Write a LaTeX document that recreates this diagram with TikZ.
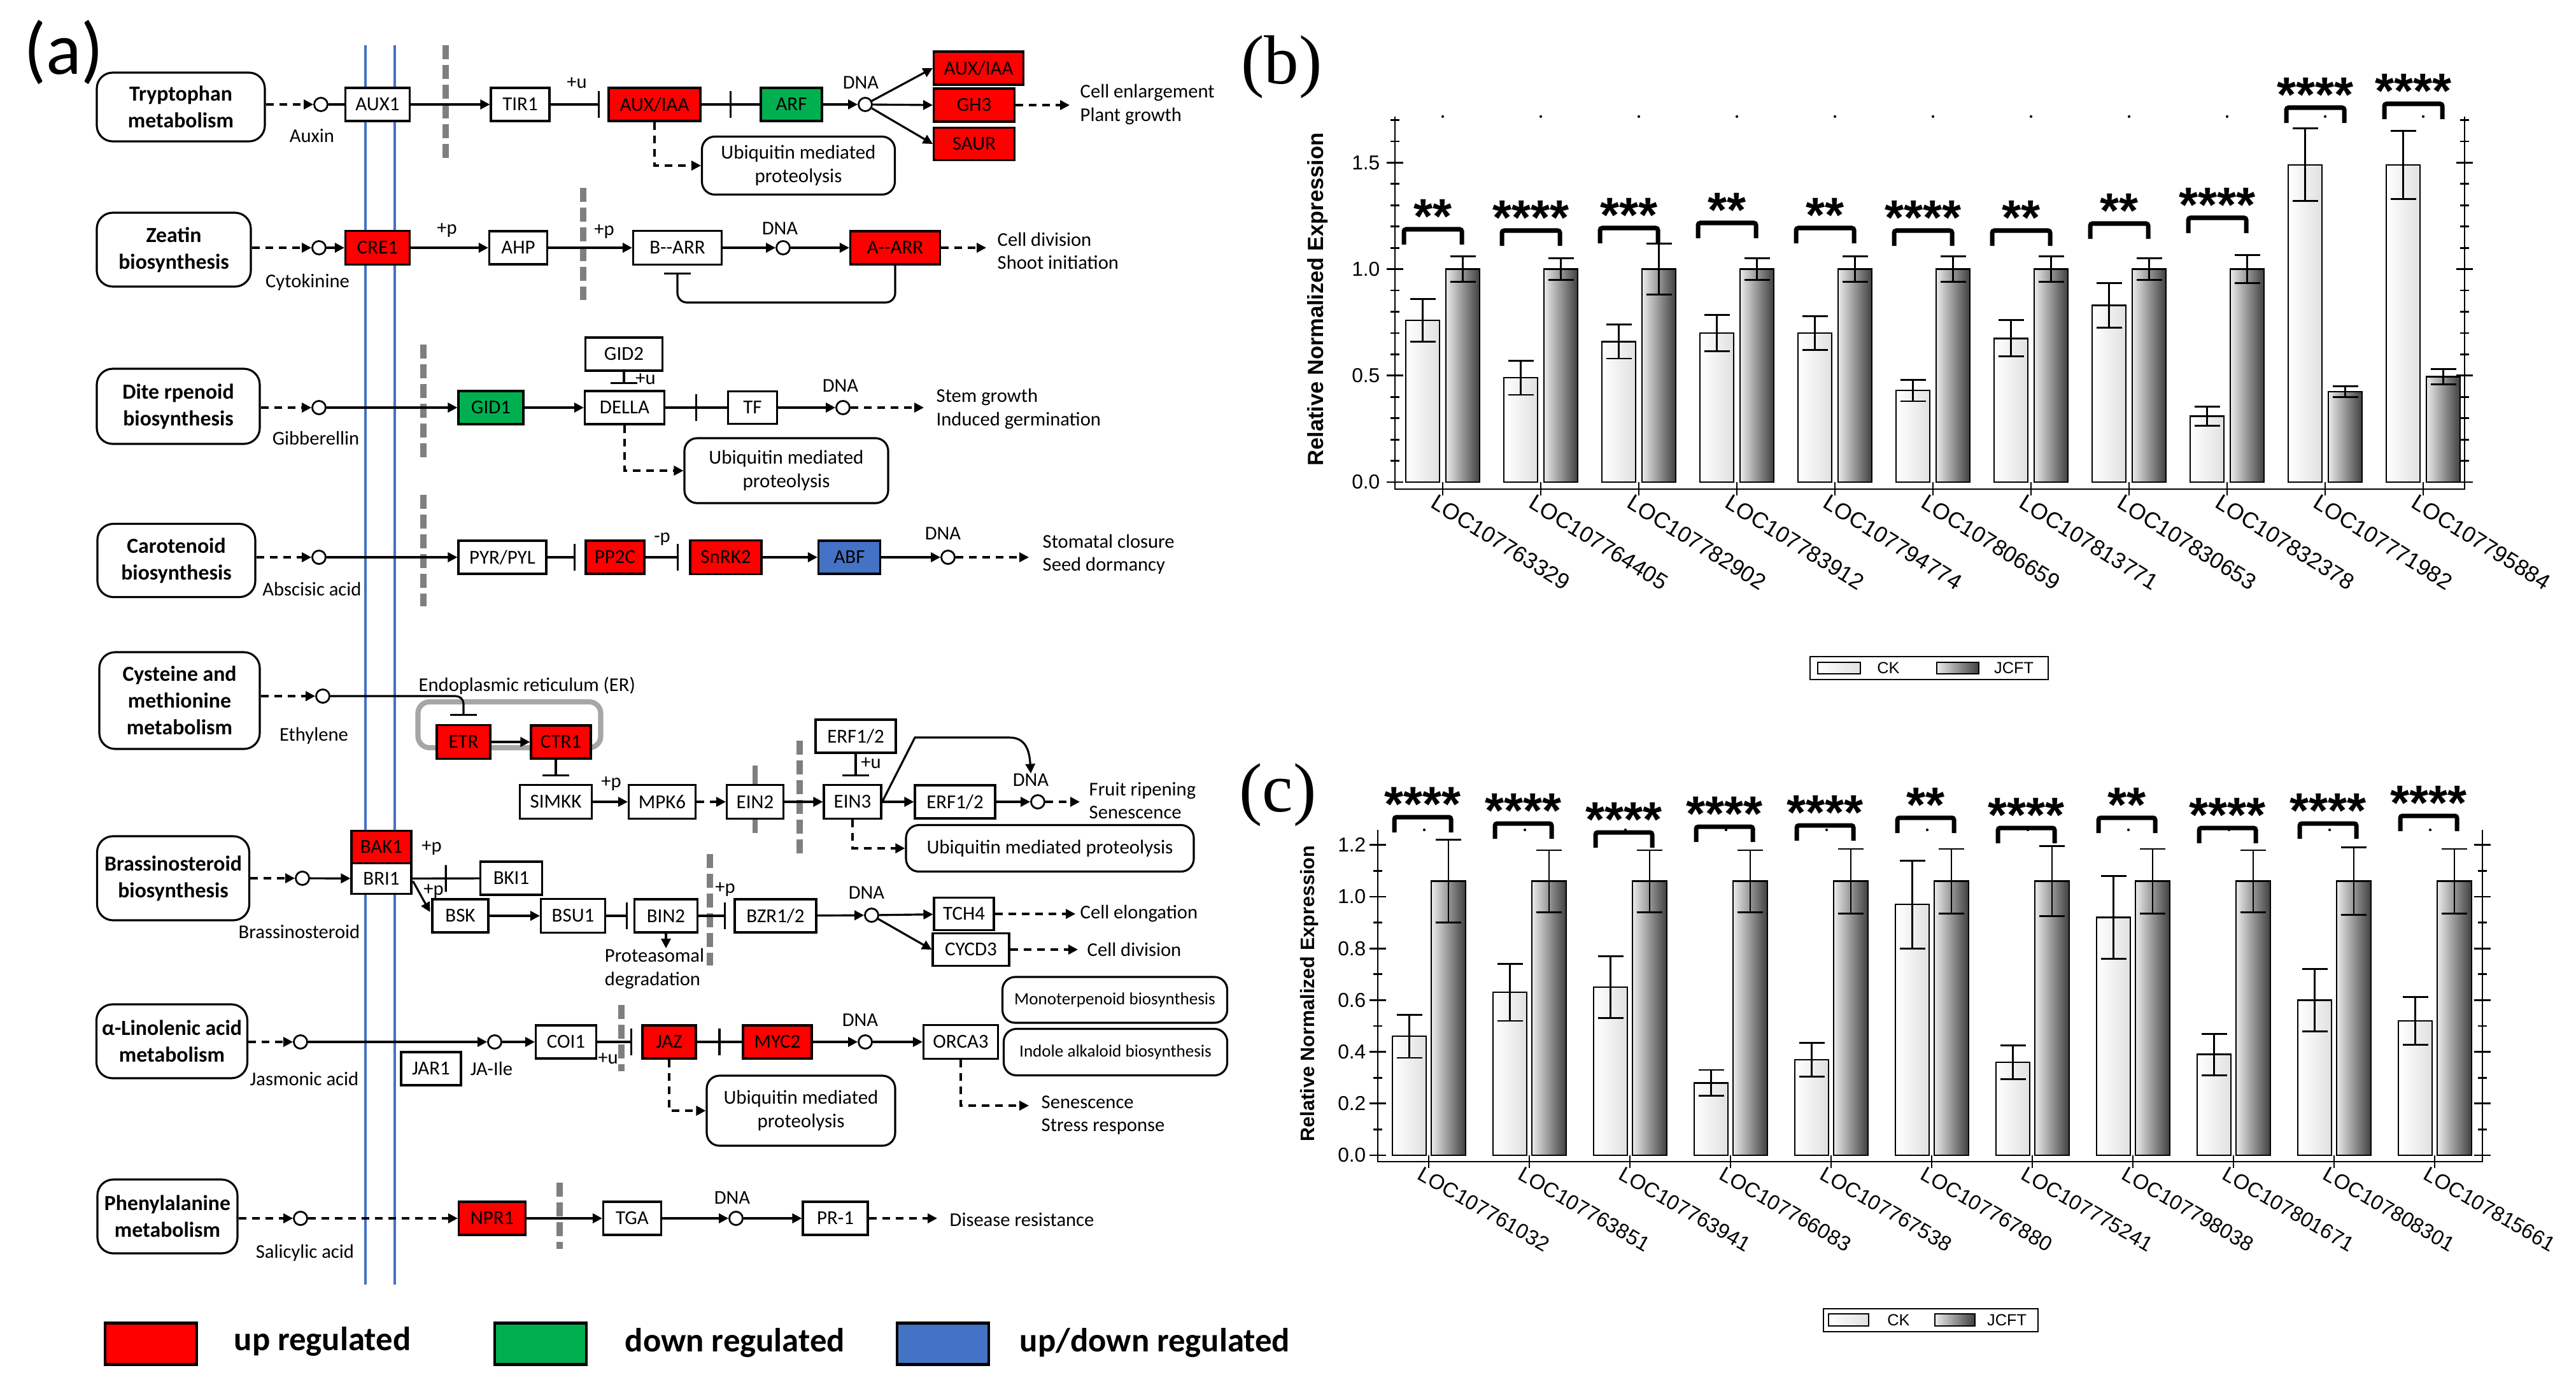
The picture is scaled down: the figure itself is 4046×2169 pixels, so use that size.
\documentclass[tikz,border=0pt]{standalone}
\usepackage{fontspec}
\setmainfont{Carlito}
\newfontfamily\arialf{Liberation Sans}
\newfontfamily\timesf{Liberation Serif}
\usetikzlibrary{arrows.meta,calc,decorations.markings}
\definecolor{upred}{HTML}{FF0000}
\definecolor{dngreen}{HTML}{00B050}
\definecolor{udblue}{HTML}{4472C4}
\definecolor{bline}{HTML}{4472C4}
\definecolor{gdgrey}{HTML}{7F7F7F}
\definecolor{ergrey}{HTML}{A6A6A6}
\tikzset{
  wh/.style 2 args={minimum width={#1*0.01cm}, minimum height={#2*0.01cm}},
  gene/.style={draw, line width=0.9pt, fill=white, inner sep=0pt, font=\fontsize{8.8}{10}\selectfont},
  upbox/.style={gene, fill=upred},
  dnbox/.style={gene, fill=dngreen},
  udbox/.style={gene, fill=udblue},
  pw/.style={draw, line width=0.9pt, rounded corners=0.25cm, align=center, inner sep=0pt, font=\bfseries\fontsize{9.6}{12}\selectfont},
  ubq/.style={draw, line width=0.9pt, rounded corners=0.2cm, align=center, inner sep=0pt, font=\fontsize{8.8}{10.6}\selectfont},
  lbl/.style={inner sep=0pt, font=\fontsize{8.7}{10.3}\selectfont},
  side/.style={lbl, align=left, anchor=west},
  cir/.style={circle, draw, line width=0.8pt, fill=white, minimum size=0.21cm, inner sep=0pt},
  ln/.style={line width=0.9pt},
  arr/.style={ln, -{Triangle[length=0.15cm,width=0.15cm]}},
  darr/.style={arr, dash pattern=on 0.12cm off 0.09cm},
  inh/.style={ln, -{Bar[width=0.42cm]}},
  midbar/.style={postaction={decorate, decoration={markings, mark=at position 0.5 with {\draw[line width=0.9pt, solid] (0pt,-0.21cm) -- (0pt,0.21cm);}}}},
  gdash/.style={draw=gdgrey, line width=2.8pt, dash pattern=on 0.22cm off 0.09cm},
  bluev/.style={draw=bline, line width=0.9pt},
  legbox/.style={draw, line width=1.2pt, wh={144}{65}, inner sep=0pt},
  legtxt/.style={inner sep=0pt, anchor=west, font=\bfseries\fontsize{15}{18}\selectfont},
  ckbar/.style={draw, line width=0.7pt, left color=white, right color=black!12},
  jcbar/.style={draw, line width=0.7pt, left color=black!8, right color=black!75},
  errb/.style={line width=0.8pt},
  brk/.style={line width=2pt},
  axl/.style={line width=0.8pt},
  tick/.style={inner sep=0pt, anchor=east, font=\arialf\fontsize{9}{10}\selectfont},
  stars/.style={inner sep=0pt, anchor=base, font=\arialf\bfseries\fontsize{22}{22}\selectfont},
}
\begin{document}
\begin{tikzpicture}[x=0.01cm,y=-0.01cm]
\useasboundingbox (0,0) rectangle (4046,2169);
\fill[white] (0,0) rectangle (4046,2169);

% ================= PANEL (a) =================
\node[inner sep=0pt, font=\fontsize{33}{36}\selectfont] (pa) at (100,82) {(a)};

% membrane lines
\draw[bluev] (574,71) -- (574,2017);
\draw[bluev] (620,71) -- (620,2017);
\draw[gdash] (700,71) -- (700,248);
\draw[gdash] (916,295) -- (916,471);
\draw[gdash] (665,541) -- (665,718);
\draw[gdash] (665,777) -- (665,952);
\draw[gdash] (1256,1163) -- (1256,1340);
\draw[gdgrey, line width=2.5pt] (1186,1202) -- (1186,1308);
\draw[gdash] (1115,1341) -- (1115,1516);
\draw[gdash] (976,1578) -- (976,1682);
\draw[gdash] (879,1857) -- (879,1961);

% ---------- Row 1: Tryptophan ----------
\node[pw, wh={264}{108}] (trp) at (284,168) {Tryptophan\\metabolism};
\node[cir] (c1) at (504,164) {};
\node[lbl] (auxin) at (490,213) {Auxin};
\node[gene, wh={101}{52}] (aux1) at (593,164) {AUX1};
\node[gene, wh={92}{52}] (tir1) at (817,164) {TIR1};
\node[lbl] (pu1) at (906,130) {+u};
\node[upbox, wh={144}{52}] (auxiaa) at (1028,164) {AUX/IAA};
\node[dnbox, wh={96}{52}] (arf) at (1243,164) {ARF};
\node[cir] (d1) at (1359,164) {};
\node[lbl] (dna1) at (1352,130) {DNA};
\node[upbox, wh={141}{52}] (auxiaa2) at (1537,107) {AUX/IAA};
\node[upbox, wh={127}{52}] (gh3) at (1530,165) {GH3};
\node[upbox, wh={127}{51}] (saur) at (1530,226) {SAUR};
\coordinate (e1) at (1680,165);
\node[side] (t1) at (1696,164) {Cell enlargement\\Plant growth};
\node[ubq, wh={303}{91}] (ub1) at (1254,260) {Ubiquitin mediated\\proteolysis};
\draw[darr] (trp.east |- c1) -- (c1);
\draw[ln] (c1) -- (aux1);
\draw[arr] (aux1) -- (tir1);
\draw[inh, shorten >=0.12cm] (tir1) -- (auxiaa);
\draw[ln, midbar] (auxiaa) -- (arf);
\draw[arr] (arf) -- (d1);
\draw[arr] (d1) -- (auxiaa2.west);
\draw[arr] (d1) -- (gh3.west);
\draw[arr] (d1) -- (saur.west);
\draw[darr] (gh3) -- (e1);
\draw[darr] (auxiaa.south) |- (ub1.west);

% ---------- Row 2: Zeatin ----------
\node[pw, wh={242}{116}] (zea) at (273,392) {Zeatin\\biosynthesis};
\node[cir] (c2) at (501,389) {};
\node[lbl] (cyto) at (483,443) {Cytokinine};
\node[upbox, wh={101}{53}] (cre1) at (593,389) {CRE1};
\node[lbl] (pp2a) at (702,362) {+p};
\node[gene, wh={91}{52}] (ahp) at (814,389) {AHP};
\node[lbl] (pp2b) at (949,364) {+p};
\node[gene, wh={139}{53}] (barr) at (1064,389) {B-{}-ARR};
\node[cir] (d2) at (1230,389) {};
\node[lbl] (dna2) at (1225,359) {DNA};
\node[upbox, wh={141}{52}] (aarr) at (1406,389) {A-{}-ARR};
\coordinate (e2) at (1549,389);
\node[side] (t2) at (1566,394) {Cell division\\Shoot initiation};
\coordinate (fb) at (1064,475);
\draw[darr] (zea.east |- c2) -- (c2);
\draw[arr] (c2) -- (cre1);
\draw[arr] (cre1) -- (ahp);
\draw[arr] (ahp) -- (barr);
\draw[arr] (barr) -- (d2);
\draw[arr] (d2) -- (aarr);
\draw[darr] (aarr) -- (e2);
\draw[inh, rounded corners=0.15cm] (aarr.south) |- (fb) -- ($(barr.south)+(0,11)$);

% ---------- Row 3: Diterpenoid ----------
\node[pw, wh={256}{118}] (dit) at (280,638) {Dite rpenoid\\biosynthesis};
\node[cir] (c3) at (501,640) {};
\node[lbl] (gib) at (496,688) {Gibberellin};
\node[dnbox, wh={102}{52}] (gid1) at (771,640) {GID1};
\node[gene, wh={125}{52}] (della) at (981,640) {DELLA};
\node[gene, wh={121}{52}] (gid2) at (980,556) {GID2};
\node[lbl] (pu3) at (1014,595) {+u};
\node[gene, wh={77}{51}] (tf) at (1182,640) {TF};
\node[cir] (d3) at (1324,640) {};
\node[lbl] (dna3) at (1320,606) {DNA};
\coordinate (e3) at (1451,640);
\node[side] (t3) at (1470,642) {Stem growth\\Induced germination};
\node[ubq, wh={320}{102}] (ub2) at (1235,739) {Ubiquitin mediated\\proteolysis};
\draw[darr] (dit.east |- c3) -- (c3);
\draw[arr] (c3) -- (gid1);
\draw[arr] (gid1) -- (della);
\draw[inh] (gid2.south) -- ($(gid2.south |- della.north)+(0,-9)$);
\draw[ln, midbar] (della) -- (tf);
\draw[arr] (tf) -- (d3);
\draw[darr] (d3) -- (e3);
\draw[darr] (della.south) |- (ub2.west);

% ---------- Row 4: Carotenoid ----------
\node[pw, wh={248}{115}] (car) at (277,880) {Carotenoid\\biosynthesis};
\node[cir] (c4) at (501,875) {};
\node[lbl] (aba) at (490,925) {Abscisic acid};
\node[gene, wh={138}{52}] (pyr) at (789,875) {PYR/PYL};
\node[upbox, wh={92}{52}] (pp2c) at (966,875) {PP2C};
\node[lbl] (mp4) at (1040,847) {-p};
\node[upbox, wh={112}{53}] (snrk) at (1140,875) {SnRK2};
\node[udbox, wh={97}{52}] (abf) at (1334,875) {ABF};
\node[cir] (d4) at (1489,875) {};
\node[lbl] (dna4) at (1481,838) {DNA};
\coordinate (e4) at (1616,875);
\node[side] (t4) at (1637,870) {Stomatal closure\\Seed dormancy};
\draw[darr] (car.east |- c4) -- (c4);
\draw[arr] (c4) -- (pyr);
\draw[inh, shorten >=0.14cm] (pyr) -- (pp2c);
\draw[inh, shorten >=0.16cm] (pp2c) -- (snrk);
\draw[arr] (snrk) -- (abf);
\draw[arr] (abf) -- (d4);
\draw[darr] (d4) -- (e4);

% ---------- Row 5: Ethylene ----------
\node[draw=ergrey, line width=2.3pt, rounded corners=0.18cm, wh={287}{72}, inner sep=0pt] (er) at (800,1138) {};
\node[lbl, anchor=west] (ertxt) at (657,1077) {Endoplasmic reticulum (ER)};
\node[pw, wh={252}{152}] (cys) at (282,1100) {Cysteine and\\methionine\\metabolism};
\node[cir] (c5) at (507,1093) {};
\node[lbl] (eth) at (493,1155) {Ethylene};
\node[upbox, wh={84}{53}] (etr) at (728,1165) {ETR};
\node[upbox, wh={94}{52}] (ctr1) at (881,1165) {CTR1};
\node[gene, wh={113}{53}] (simkk) at (873,1259) {SIMKK};
\node[lbl] (pp5a) at (960,1231) {+p};
\node[gene, wh={105}{53}] (mpk6) at (1040,1259) {MPK6};
\node[gene, wh={89}{53}] (ein2) at (1186,1259) {EIN2};
\node[gene, wh={90}{53}] (ein3) at (1339,1259) {EIN3};
\node[gene, wh={126}{52}] (erf1) at (1344,1156) {ERF1/2};
\node[lbl] (pu5) at (1368,1198) {+u};
\node[gene, wh={126}{52}] (erf2) at (1500,1259) {ERF1/2};
\node[cir] (d5) at (1630,1259) {};
\node[lbl] (dna5) at (1619,1225) {DNA};
\coordinate (e5) at (1696,1259);
\node[side] (t5) at (1710,1257) {Fruit ripening\\Senescence};
\node[ubq, wh={452}{73}] (ub3) at (1649,1332) {Ubiquitin mediated proteolysis};
\coordinate (k5a) at (1437,1158);
\coordinate (k5b) at (1585,1158);
\draw[darr] (cys.east |- c5) -- (c5);
\draw[inh, rounded corners=0.12cm] (c5) -| ($(etr.north)+(0,-13)$);
\draw[arr] (etr) -- (ctr1);
\draw[inh] (ctr1.south -| simkk.north) -- ($(simkk.north)+(0,-12)$);
\draw[arr] (simkk) -- (mpk6);
\draw[darr] (mpk6) -- (ein2);
\draw[arr] (ein2) -- (ein3);
\draw[inh] (erf1.south) -- ($(erf1.south |- ein3.north)+(0,-12)$);
\draw[arr] (ein3) -- (erf2);
\draw[arr] (erf2) -- (d5);
\draw[darr] (d5) -- (e5);
\draw[arr] (ein3.east) -- (k5a) -- (k5b) .. controls (1612,1158) and (1617,1180) .. (dna5.north);
\draw[darr] (ein3.south) |- (ub3.west);

% ---------- Row 6: Brassinosteroid ----------
\node[pw, wh={239}{132}] (bra) at (272,1379) {Brassinosteroid\\biosynthesis};
\node[cir] (c6) at (475,1379) {};
\node[lbl] (brs) at (470,1463) {Brassinosteroid};
\node[upbox, wh={94}{51}] (bak1) at (599,1330) {BAK1};
\node[gene, wh={94}{48}] (bri1) at (599,1379.5) {BRI1};
\node[lbl] (pp6a) at (678,1332) {+p};
\node[gene, wh={97}{52}] (bki1) at (803,1379) {BKI1};
\node[lbl] (pp6b) at (681,1400) {+p};
\node[gene, wh={88}{52}] (bsk) at (723,1438) {BSK};
\node[gene, wh={101}{53}] (bsu1) at (900,1438) {BSU1};
\node[gene, wh={99}{52}] (bin2) at (1046,1438) {BIN2};
\node[lbl, align=left] (prot) at (1028,1521) {Proteasomal\\degradation};
\node[lbl] (pp6c) at (1139,1397) {+p};
\node[gene, wh={128}{52}] (bzr) at (1218,1438) {BZR1/2};
\node[cir] (d6) at (1369,1437) {};
\node[lbl] (dna6) at (1361,1402) {DNA};
\node[gene, wh={94}{51}] (tch4) at (1514,1435) {TCH4};
\node[gene, wh={120}{51}] (cycd3) at (1525,1491) {CYCD3};
\coordinate (e6a) at (1689,1435);
\coordinate (e6b) at (1693,1491);
\node[side] (t6a) at (1696,1434) {Cell elongation};
\node[side] (t6b) at (1707,1491) {Cell division};
\draw[darr] (bra.east |- c6) -- (c6);
\draw[arr] (c6) -- (bri1);
\draw[ln, midbar] (bri1) -- (bki1);
\draw[arr] ($(bri1.east)+(1,4)$) -- ($(bsk.west)+(-2,-6)$);
\draw[arr] (bsk) -- (bsu1);
\draw[inh, shorten >=0.09cm] (bsu1) -- (bin2);
\draw[arr] (bin2.south) -- (bin2.south |- prot.north);
\draw[inh, shorten >=0.12cm] (bin2) -- (bzr);
\draw[arr] (bzr) -- (d6);
\draw[arr] (d6) -- (tch4);
\draw[arr] (d6) -- (cycd3.west);
\draw[darr] (tch4) -- (e6a);
\draw[darr] (cycd3) -- (e6b);

% ---------- Row 7: alpha-Linolenic ----------
\node[pw, wh={237}{116}] (lin) at (270,1635) {α-Linolenic acid\\metabolism};
\node[cir] (c7) at (472,1636) {};
\node[lbl] (jas) at (478,1694) {Jasmonic acid};
\node[gene, wh={94}{52}] (jar1) at (677,1678) {JAR1};
\node[cir] (c7b) at (777,1636) {};
\node[lbl] (jaile) at (772,1678) {JA-Ile};
\node[gene, wh={95}{52}] (coi1) at (889,1636) {COI1};
\node[lbl] (pu7) at (955,1662) {+u};
\node[upbox, wh={84}{52}] (jaz) at (1051,1636) {JAZ};
\node[upbox, wh={108}{52}] (myc2) at (1221,1636) {MYC2};
\node[cir] (d7) at (1359,1636) {};
\node[lbl] (dna7) at (1351,1602) {DNA};
\node[gene, wh={117}{53}] (orca3) at (1509,1636) {ORCA3};
\node[ubq, font=\fontsize{7.7}{9}\selectfont, wh={353}{72}] (mono) at (1751,1570) {Monoterpenoid biosynthesis};
\node[ubq, font=\fontsize{7.7}{9}\selectfont, wh={351}{73}] (indole) at (1752,1652) {Indole alkaloid biosynthesis};
\node[ubq, wh={296}{110}] (ub4) at (1258,1744) {Ubiquitin mediated\\proteolysis};
\coordinate (e7) at (1616,1736);
\node[side] (t7) at (1635,1751) {Senescence\\Stress response};
\draw[darr] (lin.east |- c7) -- (c7);
\draw[arr] (c7) -- (c7b);
\draw[arr] (c7b) -- (coi1);
\draw[inh, shorten >=0.14cm] (coi1) -- (jaz);
\draw[ln, midbar] (jaz) -- (myc2);
\draw[arr] (myc2) -- (d7);
\draw[arr] (d7) -- (orca3);
\draw[darr] (jaz.south) |- (ub4.west);
\draw[darr] (orca3.south) |- (e7);

% ---------- Row 8: Phenylalanine ----------
\node[pw, wh={220}{116}] (phe) at (263,1910) {Phenylalanine\\metabolism};
\node[cir] (c8) at (472,1913) {};
\node[lbl] (sal) at (479,1967) {Salicylic acid};
\node[upbox, wh={105}{52}] (npr1) at (773,1913) {NPR1};
\node[gene, wh={91}{52}] (tga) at (993,1913) {TGA};
\node[cir] (d8) at (1156,1913) {};
\node[lbl] (dna8) at (1150,1881) {DNA};
\node[gene, wh={102}{52}] (pr1) at (1312,1913) {PR-1};
\coordinate (e8) at (1472,1913);
\node[side] (t8) at (1491,1915) {Disease resistance};
\draw[darr] (phe.east |- c8) -- (c8);
\draw[darr] (c8) -- (npr1);
\draw[arr] (npr1) -- (tga);
\draw[arr] (tga) -- (d8);
\draw[arr] (d8) -- (pr1);
\draw[darr] (pr1) -- (e8);

% ---------- Legend ----------
\node[legbox, fill=upred] (lg1) at (237,2110) {};
\node[legtxt] (lg1t) at (367,2106) {up regulated};
\node[legbox, fill=dngreen] (lg2) at (849,2110) {};
\node[legtxt] (lg2t) at (981,2108) {down regulated};
\node[legbox, fill=udblue] (lg3) at (1481,2110) {};
\node[legtxt] (lg3t) at (1601,2108) {up/down regulated};

% ================= PANEL (b) =================
\node[inner sep=0pt, font=\timesf\fontsize{31}{34}\selectfont] (pb) at (2013,105) {(b)};
\draw[axl] (2191,183) -- (2191,768) -- (3871,768) -- (3871,183);
\foreach \k in {0,...,17}{
  \draw[axl] (2184,{757-\k*33.44}) -- (2198,{757-\k*33.44});
  \draw[axl] (3864,{757-\k*33.44}) -- (3878,{757-\k*33.44});
}
\foreach \k/\t in {0/0.0,5/0.5,10/1.0,15/1.5}{
  \draw[axl] (2178,{757-\k*33.44}) -- (2204,{757-\k*33.44});
  \draw[axl] (3858,{757-\k*33.44}) -- (3884,{757-\k*33.44});
  \node[tick] (btl\k) at (2168,{757-\k*33.44}) {\t};
}
\node[rotate=90, inner sep=0pt, font=\arialf\bfseries\fontsize{9.8}{11}\selectfont] (bylab) at (2070,470) {Relative Normalized Expression};
\foreach \i/\ck/\cke/\jc/\jce/\bt/\st/\nm in {
0/0.76/0.10/1.0/0.06/360/**/LOC107763329,
1/0.49/0.08/1.0/0.05/362/****/LOC107764405,
2/0.66/0.08/1.0/0.12/358/***/LOC107782902,
3/0.70/0.085/1.0/0.05/350/**/LOC107783912,
4/0.70/0.08/1.0/0.06/358/**/LOC107794774,
5/0.43/0.05/1.0/0.06/362/****/LOC107806659,
6/0.675/0.085/1.0/0.06/362/**/LOC107813771,
7/0.83/0.105/1.0/0.05/351/**/LOC107830653,
8/0.31/0.045/1.0/0.065/342/****/LOC107832378,
9/1.49/0.17/0.425/0.025/169/****/LOC107771982,
10/1.49/0.16/0.495/0.035/163/****/LOC107795884}{
  \pgfmathsetmacro\xl{2208+154*\i}
  \pgfmathsetmacro\xj{\xl+63}
  \pgfmathsetmacro\yc{757-\ck*334.4}
  \pgfmathsetmacro\ycl{757-(\ck-\cke)*334.4}
  \pgfmathsetmacro\ych{757-(\ck+\cke)*334.4}
  \pgfmathsetmacro\yj{757-\jc*334.4}
  \pgfmathsetmacro\yjl{757-(\jc-\jce)*334.4}
  \pgfmathsetmacro\yjh{757-(\jc+\jce)*334.4}
  \draw[ckbar] (\xl,757) rectangle ({\xl+53},\yc);
  \draw[jcbar] (\xj,757) rectangle ({\xj+53},\yj);
  \draw[errb] ({\xl+26.5},\ycl) -- ({\xl+26.5},\ych);
  \draw[errb] ({\xl+6.5},\ycl) -- ({\xl+46.5},\ycl);
  \draw[errb] ({\xl+6.5},\ych) -- ({\xl+46.5},\ych);
  \draw[errb] ({\xj+26.5},\yjl) -- ({\xj+26.5},\yjh);
  \draw[errb] ({\xj+6.5},\yjl) -- ({\xj+46.5},\yjl);
  \draw[errb] ({\xj+6.5},\yjh) -- ({\xj+46.5},\yjh);
  \draw[axl] ({\xl+58},757) -- ({\xl+58},778);
  \fill ({\xl+58},183) circle (0.6pt);
  \draw[brk, rounded corners=1pt] ({\xl-3},{\bt+24}) -- ({\xl-3},\bt) -- ({\xl+88},\bt) -- ({\xl+88},{\bt+24});
  \node[stars] (bs\i) at ({\xl+42.5},{\bt+6}) {\st};
  \node[rotate=-32, anchor=north west, inner sep=0pt, font=\arialf\fontsize{10}{11}\selectfont] (bl\i) at ({\xl+50},774) {\nm};
}
\draw[axl] (2843,1031) rectangle (3217,1067);
\draw[ckbar] (2855,1040) rectangle (2922,1058);
\node[inner sep=0pt, font=\arialf\fontsize{7.2}{8}\selectfont] (blck) at (2966,1049) {CK};
\draw[jcbar] (3042,1040) rectangle (3108,1058);
\node[inner sep=0pt, font=\arialf\fontsize{7.2}{8}\selectfont] (bljc) at (3163,1049) {JCFT};

% ================= PANEL (c) =================
\node[inner sep=0pt, font=\timesf\fontsize{31}{34}\selectfont] (pc) at (2007,1248) {(c)};
\draw[axl] (2164,1303) -- (2164,1824) -- (3899,1824) -- (3899,1303);
\foreach \k in {0,...,12}{
  \draw[axl] (2157,{1814-\k*40.6}) -- (2171,{1814-\k*40.6});
  \draw[axl] (3892,{1814-\k*40.6}) -- (3906,{1814-\k*40.6});
}
\foreach \k/\t in {0/0.0,2/0.2,4/0.4,6/0.6,8/0.8,10/1.0,12/1.2}{
  \draw[axl] (2151,{1814-\k*40.6}) -- (2177,{1814-\k*40.6});
  \draw[axl] (3886,{1814-\k*40.6}) -- (3912,{1814-\k*40.6});
  \node[tick] (ctl\k) at (2146,{1814-\k*40.6}) {\t};
}
\node[rotate=90, inner sep=0pt, font=\arialf\bfseries\fontsize{8.7}{10}\selectfont] (cylab) at (2057,1560) {Relative Normalized Expression};
\foreach \i/\ck/\cke/\jc/\jce/\bt/\st/\nm in {
0/0.46/0.083/1.06/0.16/1283/****/LOC107761032,
1/0.63/0.11/1.06/0.12/1293/****/LOC107763851,
2/0.65/0.12/1.06/0.12/1307/****/LOC107763941,
3/0.28/0.05/1.06/0.12/1298/****/LOC107766083,
4/0.37/0.065/1.06/0.125/1296/****/LOC107767538,
5/0.97/0.17/1.06/0.125/1284/**/LOC107767880,
6/0.36/0.065/1.06/0.135/1300/****/LOC107775241,
7/0.92/0.16/1.06/0.125/1284/**/LOC107798038,
8/0.39/0.08/1.06/0.12/1300/****/LOC107801671,
9/0.60/0.12/1.06/0.13/1293/****/LOC107808301,
10/0.52/0.093/1.06/0.125/1281/****/LOC107815661}{
  \pgfmathsetmacro\xl{2187+158*\i}
  \pgfmathsetmacro\xj{\xl+61}
  \pgfmathsetmacro\yc{1814-\ck*406}
  \pgfmathsetmacro\ycl{1814-(\ck-\cke)*406}
  \pgfmathsetmacro\ych{1814-(\ck+\cke)*406}
  \pgfmathsetmacro\yj{1814-\jc*406}
  \pgfmathsetmacro\yjl{1814-(\jc-\jce)*406}
  \pgfmathsetmacro\yjh{1814-(\jc+\jce)*406}
  \draw[ckbar] (\xl,1814) rectangle ({\xl+53},\yc);
  \draw[jcbar] (\xj,1814) rectangle ({\xj+54},\yj);
  \draw[errb] ({\xl+26.5},\ycl) -- ({\xl+26.5},\ych);
  \draw[errb] ({\xl+6.5},\ycl) -- ({\xl+46.5},\ycl);
  \draw[errb] ({\xl+6.5},\ych) -- ({\xl+46.5},\ych);
  \draw[errb] ({\xj+27},\yjl) -- ({\xj+27},\yjh);
  \draw[errb] ({\xj+7},\yjl) -- ({\xj+47},\yjl);
  \draw[errb] ({\xj+7},\yjh) -- ({\xj+47},\yjh);
  \draw[axl] ({\xl+57},1814) -- ({\xl+57},1834);
  \fill ({\xl+50},1303) circle (0.6pt);
  \draw[brk, rounded corners=1pt] ({\xl+3},{\bt+24}) -- ({\xl+3},\bt) -- ({\xl+92},\bt) -- ({\xl+92},{\bt+24});
  \node[stars] (cs\i) at ({\xl+47.5},{\bt+6}) {\st};
  \node[rotate=-30, anchor=north west, inner sep=0pt, font=\arialf\fontsize{9.3}{10}\selectfont] (cl\i) at ({\xl+49},1830) {\nm};
}
\draw[axl] (2864,2055) rectangle (3201,2091);
\draw[ckbar] (2872,2063) rectangle (2935,2082);
\node[inner sep=0pt, font=\arialf\fontsize{7.2}{8}\selectfont] (clck) at (2982,2073) {CK};
\draw[jcbar] (3039,2063) rectangle (3102,2082);
\node[inner sep=0pt, font=\arialf\fontsize{7.2}{8}\selectfont] (cljc) at (3152,2073) {JCFT};
\end{tikzpicture}
\end{document}
